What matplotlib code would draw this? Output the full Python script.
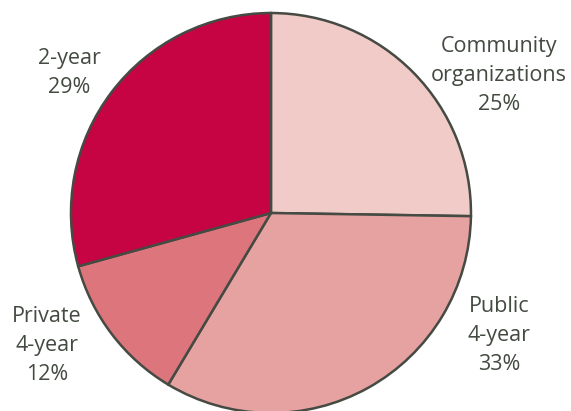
import matplotlib.pyplot as plt

plt.rcParams['font.family'] = ['Open Sans', 'DejaVu Sans']

# slices, clockwise from the top
labels = ["Community\norganizations", "Public\n4-year", "Private\n4-year", "2-year"]
shares = [25, 33, 12, 29]
colors = ["#F1CBC8", "#E6A1A1", "#DC757C", "#C70443"]
# label block centres (pie data units)
labelPos = [(1.14, 0.69), (1.14, -0.61), (-1.12, -0.66), (-1.01, 0.70)]

textColor = "#434a40"
edgeColor = "#454a42"

fig = plt.figure(figsize=(5.71, 4.11), dpi=100)
ax = fig.add_axes([0.1243, -0.00487, 0.7005, 0.9732])
ax.pie(shares, colors=colors, startangle=90, counterclock=False,
       wedgeprops=dict(edgecolor=edgeColor, linewidth=1.8))
ax.set_xlim(-1, 1)
ax.set_ylim(-1, 1)
ax.set_aspect('auto')
ax.axis('off')

for lab, val, (x, y) in zip(labels, shares, labelPos):
    ax.text(x, y, f"{lab}\n{val}%", ha='center', va='center', fontsize=15.5,
            color=textColor, linespacing=1.5, clip_on=False)

fig.savefig("out.png", dpi=100)
